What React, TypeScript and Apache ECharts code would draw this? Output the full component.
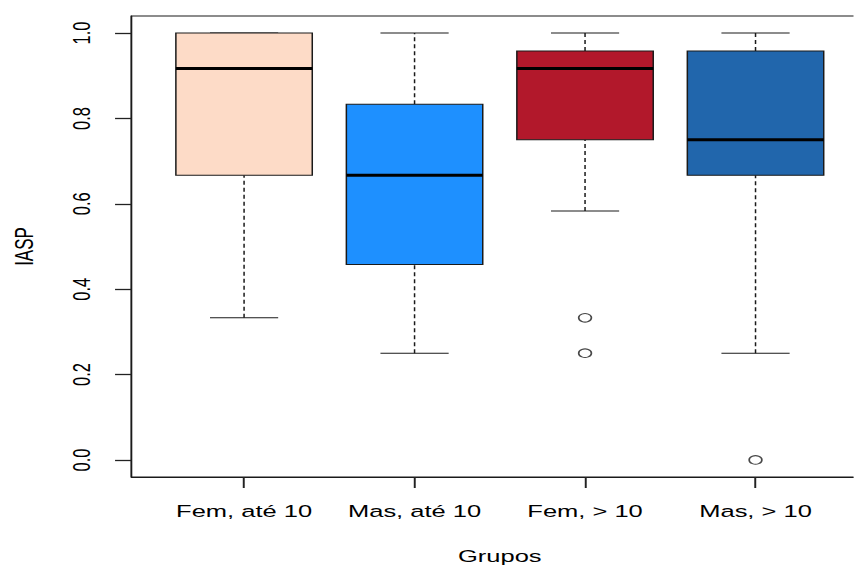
import React, { useEffect, useRef } from "react";
import * as echarts from "echarts";

const categories = ["Fem, até 10", "Mas, até 10", "Fem, > 10", "Mas, > 10"];
const lowerWhisker = [0.333, 0.25, 0.583, 0.25];
const q1 = [0.667, 0.458, 0.75, 0.667];
const medians = [0.917, 0.667, 0.917, 0.75];
const q3 = [1.0, 0.833, 0.958, 0.958];
const upperWhisker = [1.0, 1.0, 1.0, 1.0];
const boxColors = ["#FDDBC7", "#1E90FF", "#B2182B", "#2166AC"];
const outliers: [number, number][] = [
  [3, 0.333],
  [3, 0.25],
  [4, 0.0],
];
const yTicks = [0, 0.2, 0.4, 0.6, 0.8, 1.0];
const xTicks = [1, 2, 3, 4];

const STRETCH = 1.5;
const W = 854 / STRETCH;
const H = 566;
const FONT = "'Liberation Sans', Arial, Helvetica, sans-serif";
const INK = "#1a1a1a";

export default function App() {
  const ref = useRef<HTMLDivElement>(null);
  useEffect(() => {
    if (!ref.current) return;
    const chart = echarts.init(ref.current, null, { renderer: "svg" });
    const boxData = categories.map((_, i) => [
      i + 1,
      lowerWhisker[i],
      q1[i],
      medians[i],
      q3[i],
      upperWhisker[i],
    ]);
    chart.setOption({
      animation: false,
      backgroundColor: "#ffffff",
      grid: {
        left: 87.7,
        top: 16,
        width: 491,
        height: 461,
        containLabel: false,
        outerBoundsMode: "none",
        show: true,
        borderColor: INK,
        borderWidth: 1,
        backgroundColor: "transparent",
      },
      xAxis: {
        type: "value",
        min: 0.34,
        max: 4.66,
        position: "bottom",
        axisLine: { show: true, onZero: false, lineStyle: { color: INK, width: 1 } },
        splitLine: { show: false },
        axisTick: {
          show: true,
          inside: false,
          customValues: xTicks,
          length: 11,
          lineStyle: { color: "#222", width: 1.3 },
        },
        axisLabel: {
          customValues: xTicks,
          formatter: (v: number) => categories[Math.round(v) - 1] ?? "",
          margin: 26,
          fontFamily: FONT,
          fontSize: 17,
          color: "#000",
        },
        name: "Grupos",
        nameLocation: "middle",
        nameGap: 71,
        nameTextStyle: { fontFamily: FONT, fontSize: 17, color: "#000" },
        z: 5,
      },
      yAxis: {
        type: "value",
        min: -0.04,
        max: 1.04,
        position: "left",
        axisLine: { show: true, onZero: false, lineStyle: { color: INK, width: 1 } },
        splitLine: { show: false },
        axisTick: {
          show: true,
          inside: false,
          customValues: yTicks,
          length: 11,
          lineStyle: { color: "#222", width: 1.3 },
        },
        axisLabel: {
          customValues: yTicks,
          rotate: 90,
          formatter: (v: number) => v.toFixed(1),
          margin: 25,
          fontFamily: FONT,
          fontSize: 16.5,
          color: "#000",
        },
        name: "IASP",
        nameLocation: "middle",
        nameGap: 63,
        nameTextStyle: { fontFamily: FONT, fontSize: 17, color: "#000" },
        z: 5,
      },
      series: [
        {
          type: "custom",
          data: boxData,
          encode: { x: 0, y: [1, 2, 3, 4, 5] },
          renderItem: (params: any, api: any) => {
            const x = api.value(0);
            const lo = api.value(1);
            const a = api.value(2);
            const m = api.value(3);
            const b = api.value(4);
            const hi = api.value(5);
            const idx = params.dataIndex;
            const pLo = api.coord([x, lo]);
            const pA = api.coord([x, a]);
            const pM = api.coord([x, m]);
            const pB = api.coord([x, b]);
            const pHi = api.coord([x, hi]);
            const halfBox = api.size([0.8, 0])[0] / 2;
            const halfCap = halfBox / 2;
            const cx = pM[0];
            const lineStyle = { stroke: INK, lineWidth: 1 };
            return {
              type: "group",
              children: [
                {
                  type: "line",
                  shape: { x1: cx, y1: pB[1], x2: cx, y2: pHi[1] },
                  style: { ...lineStyle, lineDash: [4, 3] },
                },
                {
                  type: "line",
                  shape: { x1: cx, y1: pLo[1], x2: cx, y2: pA[1] },
                  style: { ...lineStyle, lineDash: [4, 3] },
                },
                {
                  type: "line",
                  shape: { x1: cx - halfCap, y1: pHi[1], x2: cx + halfCap, y2: pHi[1] },
                  style: lineStyle,
                },
                {
                  type: "line",
                  shape: { x1: cx - halfCap, y1: pLo[1], x2: cx + halfCap, y2: pLo[1] },
                  style: lineStyle,
                },
                {
                  type: "rect",
                  shape: {
                    x: cx - halfBox,
                    y: pB[1],
                    width: halfBox * 2,
                    height: pA[1] - pB[1],
                  },
                  style: { fill: boxColors[idx], stroke: INK, lineWidth: 1 },
                },
                {
                  type: "line",
                  shape: { x1: cx - halfBox, y1: pM[1], x2: cx + halfBox, y2: pM[1] },
                  style: { stroke: "#000", lineWidth: 3 },
                },
              ],
            };
          },
          z: 2,
        },
        {
          type: "scatter",
          data: outliers,
          symbol: "circle",
          symbolSize: 8.5,
          itemStyle: { color: "#ffffff", borderColor: INK, borderWidth: 1.1 },
          z: 3,
        },
      ],
    });
    return () => chart.dispose();
  }, []);
  return (
    <div
      ref={ref}
      style={{
        position: "absolute",
        left: 0,
        top: 0,
        width: W,
        height: H,
        transform: `scaleX(${STRETCH})`,
        transformOrigin: "0 0",
      }}
    />
  );
}
